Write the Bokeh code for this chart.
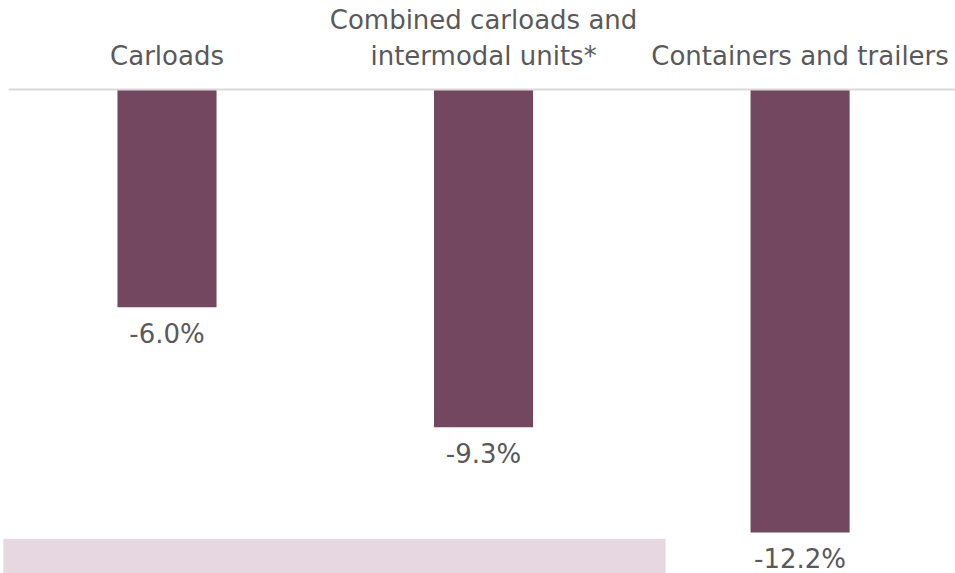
from bokeh.plotting import figure
from bokeh.models import ColumnDataSource, BoxAnnotation, Range1d
from bokeh.core.properties import value
from bokeh.embed import file_html
from bokeh.resources import INLINE

categories = ["Carloads", "Combined carloads and\nintermodal units*", "Containers and trailers"]
changes = [-6.0, -9.3, -12.2]
labels = ["-6.0%", "-9.3%", "-12.2%"]

xs = list(range(len(categories)))
src = ColumnDataSource(dict(x=xs, top=[0] * len(changes), bottom=changes,
                            cat=categories, lab=labels))

W, H = 955, 573
p = figure(width=W, height=H, output_backend="svg", toolbar_location=None,
           x_range=Range1d(-0.526, 2.491), y_range=Range1d(-13.33, 2.45),
           min_border=0, outline_line_color=None)
p.axis.visible = False
p.grid.visible = False
p.background_fill_color = "white"
p.border_fill_color = "white"

p.add_layout(BoxAnnotation(left=-0.517, right=1.575, top=-12.37, fill_color="#e6d7e1",
                           fill_alpha=1.0, line_color=None))

p.vbar(x="x", top="top", bottom="bottom", width=0.313, source=src,
       fill_color="#73475f", line_color=None)

p.segment(x0=[-0.5], y0=[0], x1=[2.491], y1=[0], line_color="#d9d9d9", line_width=2)

font = value("DejaVu Sans")
p.text(x="x", y="top", text="cat", source=src, text_font=font, text_font_size="26px",
       text_color="#595959", text_align="center", text_baseline="bottom",
       y_offset=-18, text_line_height=1.22)
p.text(x="x", y="bottom", text="lab", source=src, text_font=font, text_font_size="26px",
       text_color="#595959", text_align="center", text_baseline="top", y_offset=12)

open("out.html", "w").write(file_html(p, INLINE))
